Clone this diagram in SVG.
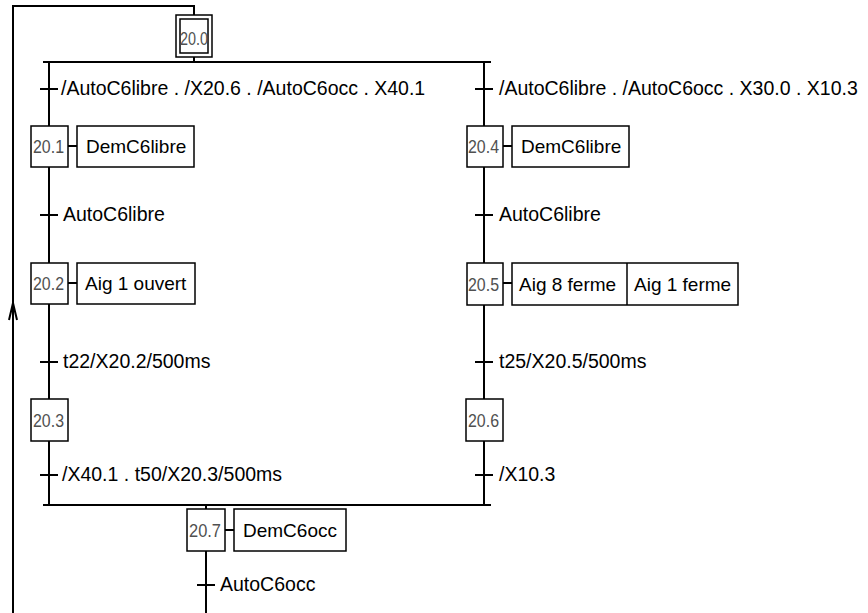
<svg xmlns="http://www.w3.org/2000/svg" width="868" height="613" viewBox="0 0 868 613">
<style>
.ln{fill:none;stroke:#000;stroke-width:2}
.bx{fill:#fff;stroke:#000;stroke-width:1.5}
.st{font-family:"Liberation Sans",Arial,sans-serif;font-size:19px;fill:#505050}
.ac{font-family:"Liberation Sans",Arial,sans-serif;font-size:19px;fill:#000}
.tr{font-family:"Liberation Sans",Arial,sans-serif;font-size:19.5px;fill:#000}
</style>
<rect width="868" height="613" fill="#fff"/>
<g id="connectors">
<polyline class="ln" points="13,613 13,6 194,6 194,15"/>
<polyline class="ln" points="9,320 13,303 17,320"/>
<line class="ln" x1="194" y1="57" x2="194" y2="62"/>
<line class="ln" x1="43" y1="62" x2="491" y2="62"/>
<line class="ln" x1="49" y1="62" x2="49" y2="126"/>
<line class="ln" x1="49" y1="167" x2="49" y2="263"/>
<line class="ln" x1="49" y1="304" x2="49" y2="399"/>
<line class="ln" x1="49" y1="441" x2="49" y2="505"/>
<line class="ln" x1="484" y1="62" x2="484" y2="126"/>
<line class="ln" x1="484" y1="167" x2="484" y2="263"/>
<line class="ln" x1="484" y1="304" x2="484" y2="399"/>
<line class="ln" x1="484" y1="441" x2="484" y2="505"/>
<line class="ln" x1="43" y1="505" x2="491" y2="505"/>
<line class="ln" x1="206" y1="505" x2="206" y2="509"/>
<line class="ln" x1="206" y1="551" x2="206" y2="613"/>
<line class="ln" x1="68" y1="146" x2="77" y2="146"/>
<line class="ln" x1="68" y1="283" x2="77" y2="283"/>
<line class="ln" x1="503" y1="146" x2="512" y2="146"/>
<line class="ln" x1="503" y1="283" x2="512" y2="283"/>
<line class="ln" x1="225" y1="530" x2="234" y2="530"/>
</g>
<g id="t1"><line class="ln" x1="40" y1="89" x2="58" y2="89"/><text class="tr" x="61" y="95">/AutoC6libre . /X20.6 . /AutoC6occ . X40.1</text></g>
<g id="t2"><line class="ln" x1="40" y1="215" x2="58" y2="215"/><text class="tr" x="63" y="221">AutoC6libre</text></g>
<g id="t3"><line class="ln" x1="40" y1="362" x2="58" y2="362"/><text class="tr" x="63" y="368">t22/X20.2/500ms</text></g>
<g id="t4"><line class="ln" x1="40" y1="475" x2="58" y2="475"/><text class="tr" x="62" y="481">/X40.1 . t50/X20.3/500ms</text></g>
<g id="t5"><line class="ln" x1="475" y1="89" x2="493" y2="89"/><text class="tr" x="499" y="95">/AutoC6libre . /AutoC6occ . X30.0 . X10.3</text></g>
<g id="t6"><line class="ln" x1="475" y1="215" x2="493" y2="215"/><text class="tr" x="499" y="221">AutoC6libre</text></g>
<g id="t7"><line class="ln" x1="475" y1="362" x2="493" y2="362"/><text class="tr" x="499" y="368">t25/X20.5/500ms</text></g>
<g id="t8"><line class="ln" x1="475" y1="475" x2="493" y2="475"/><text class="tr" x="499" y="481">/X10.3</text></g>
<g id="t9"><line class="ln" x1="197" y1="585" x2="215" y2="585"/><text class="tr" x="220" y="591">AutoC6occ</text></g>
<g id="s20_0"><rect class="bx" x="176" y="15" width="36" height="42"/><rect class="bx" x="180" y="19" width="28" height="34"/><text class="st" x="180" y="45" font-size="20" textLength="28" lengthAdjust="spacingAndGlyphs">20.0</text></g>
<g id="s20_1"><rect class="bx" x="31" y="126" width="37" height="41"/><text class="st" x="33" y="153" textLength="31" lengthAdjust="spacingAndGlyphs">20.1</text></g>
<g id="a20_1"><rect class="bx" x="77" y="126" width="117" height="41"/><text class="ac" x="86" y="153">DemC6libre</text></g>
<g id="s20_2"><rect class="bx" x="31" y="263" width="37" height="41"/><text class="st" x="33" y="290" textLength="31" lengthAdjust="spacingAndGlyphs">20.2</text></g>
<g id="a20_2"><rect class="bx" x="77" y="263" width="118" height="41"/><text class="ac" x="85" y="290">Aig 1 ouvert</text></g>
<g id="s20_3"><rect class="bx" x="31" y="399" width="37" height="42"/><text class="st" x="33" y="427" textLength="31" lengthAdjust="spacingAndGlyphs">20.3</text></g>
<g id="s20_4"><rect class="bx" x="467" y="126" width="36" height="41"/><text class="st" x="468" y="153" textLength="31" lengthAdjust="spacingAndGlyphs">20.4</text></g>
<g id="a20_4"><rect class="bx" x="512" y="126" width="117" height="41"/><text class="ac" x="521" y="153">DemC6libre</text></g>
<g id="s20_5"><rect class="bx" x="467" y="263" width="36" height="42"/><text class="st" x="468" y="291" textLength="31" lengthAdjust="spacingAndGlyphs">20.5</text></g>
<g id="a20_5"><rect class="bx" x="512" y="263" width="226" height="42"/><line class="bx" x1="627" y1="263" x2="627" y2="305"/><text class="ac" x="519" y="291">Aig 8 ferme</text><text class="ac" x="634" y="291">Aig 1 ferme</text></g>
<g id="s20_6"><rect class="bx" x="466" y="399" width="37" height="42"/><text class="st" x="468" y="427" textLength="31" lengthAdjust="spacingAndGlyphs">20.6</text></g>
<g id="s20_7"><rect class="bx" x="187" y="509" width="38" height="42"/><text class="st" x="189" y="537" textLength="32" lengthAdjust="spacingAndGlyphs">20.7</text></g>
<g id="a20_7"><rect class="bx" x="234" y="509" width="112" height="42"/><text class="ac" x="243" y="537">DemC6occ</text></g>
</svg>
